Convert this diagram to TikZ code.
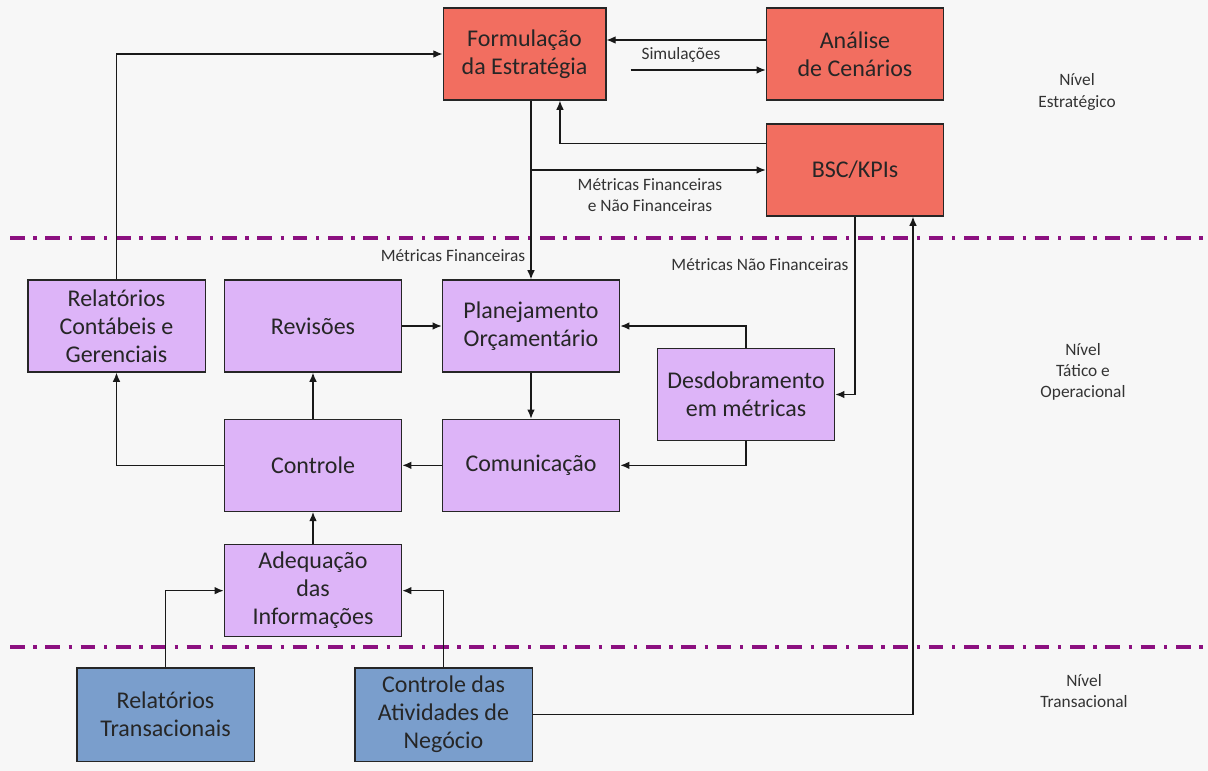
\documentclass[tikz,border=0pt]{standalone}
\usepackage{fontspec}
\setmainfont{Carlito}
\usepackage{xcolor}
\usepackage{tikz}
\usetikzlibrary{arrows.meta, positioning, calc}
\definecolor{estrat}{RGB}{242,110,96}
\definecolor{tatico}{RGB}{221,180,248}
\definecolor{trans}{RGB}{122,158,204}
\definecolor{nivelline}{RGB}{140,16,128}
\definecolor{fundo}{RGB}{247,247,247}
\tikzset{
  box/.style={draw=black!85, line width=1pt, align=center, font=\fontsize{18}{21}\selectfont,
              minimum width=133pt, minimum height=69pt, inner sep=2pt, text=black!85},
  redbox/.style={box, fill=estrat},
  lilbox/.style={box, fill=tatico},
  bluebox/.style={box, fill=trans, minimum height=70pt},
  arrow/.style={-{Latex[length=2.4mm, width=2mm]}, line width=0.9pt, black!90},
  levelsep/.style={nivelline, line width=2.6pt, dash pattern=on 11pt off 6.5pt on 2.5pt off 6.5pt},
  note/.style={align=center, font=\fontsize{13}{15.5}\selectfont, text=black!80},
  level/.style={align=center, font=\fontsize{13}{16}\selectfont, text=black!80}
}
\begin{document}
\begin{tikzpicture}[x=0.75pt, y=-0.75pt]
    % fundo e limites
    \fill[fundo] (0,0) rectangle (1208,771);
    \useasboundingbox (0,0) rectangle (1208,771);
    \draw[levelsep] (10,238) -- (1205,238);
    \draw[levelsep] (10,647) -- (1205,647);

    % nivel estrategico
    \node[redbox, minimum width=122pt] (form) at (524.5,54) {Formulação\\da Estratégia};
    \node[redbox] (cenarios) at (855,54) {Análise\\de Cenários};
    \node[redbox] (bsc) at (855,170) {BSC/KPIs};

    % nivel tatico e operacional
    \node[lilbox] (relcont) at (116.5,326) {Relatórios\\Contábeis e\\Gerenciais};
    \node[lilbox] (revisoes) at (313,326) {Revisões};
    \node[lilbox] (plan) at (531,326) {Planejamento\\Orçamentário};
    \node[lilbox] (desdob) at (746,394.5) {Desdobramento\\em métricas};
    \node[lilbox, below=34.5pt of revisoes] (controle) {Controle};
    \node[lilbox, below=34.5pt of plan] (comunic) {Comunicação};
    \node[lilbox, below=24pt of controle] (adeq) {Adequação\\das\\Informações};

    % nivel transacional
    \node[bluebox] (reltrans) at (165.5,714.5) {Relatórios\\Transacionais};
    \node[bluebox] (ctrlativ) at (443.5,714.5) {Controle das\\Atividades de\\Negócio};

    % rotulos dos niveis
    \node[level] (lvest) at (1077,92) {Nível\\Estratégico};
    \node[level] (lvtat) at (1083,372) {Nível\\Tático e\\Operacional};
    \node[level] (lvtra) at (1084,691) {Nível\\Transacional};

    % ligacoes
    \draw[arrow] ([yshift=10.5pt]cenarios.west) -- ([yshift=10.5pt]form.east);
    \draw[arrow, shorten <=18pt] ([yshift=-12pt]form.east) -- ([yshift=-12pt]cenarios.west);
    \node[note] (simul) at (681,55) {Simulações};
    \draw[arrow] ([yshift=20pt]bsc.west) -| ([xshift=26.6pt]form.south);
    \draw[arrow] (form.south -| plan.north) -- (plan.north);
    \coordinate (split) at (plan.north |- bsc.west);
    \draw[arrow] (split) -- (bsc.west);
    \node[note] (mfnf) at (650,195) {Métricas Financeiras\\e Não Financeiras};
    \node[note, anchor=east] (mfin) at (530,256) {Métricas Financeiras};
    \draw[arrow] (bsc.south) |- (desdob.east);
    \node[note] (mnf) at (760,265) {Métricas Não Financeiras};
    \draw[arrow] (ctrlativ.east) -| ([xshift=43.5pt]bsc.south);
    \draw[arrow] (relcont.north) |- (form.west);

    \draw[arrow] (revisoes) -- (plan);
    \draw[arrow] (desdob.north) |- (plan.east);
    \draw[arrow] (desdob.south) |- (comunic.east);
    \draw[arrow] (plan) -- (comunic);
    \draw[arrow] (comunic) -- (controle);
    \draw[arrow] (controle.west) -| (relcont.south);
    \draw[arrow] (controle) -- (revisoes);
    \draw[arrow] (adeq) -- (controle);
    \draw[arrow] (reltrans.north) |- (adeq.west);
    \draw[arrow] (ctrlativ.north) |- (adeq.east);
\end{tikzpicture}
\end{document}
